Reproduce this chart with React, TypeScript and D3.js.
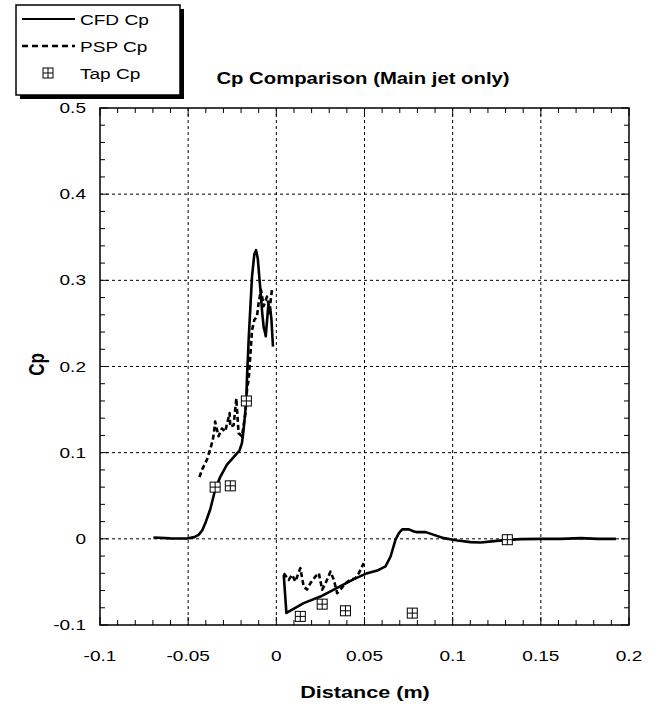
import React from "react";
import * as d3 from "d3";

// Cp data, [distance (m), Cp]
const cfdUpstream: [number, number][] = [
  [-0.0697, 0.0015], [-0.06, 0.0005], [-0.0507, 0.0003], [-0.0465, 0.002], [-0.0441, 0.0046],
  [-0.042, 0.01], [-0.0403, 0.018], [-0.0375, 0.034], [-0.0347, 0.057], [-0.0318, 0.072],
  [-0.028, 0.086], [-0.0242, 0.0948], [-0.0209, 0.1025], [-0.0195, 0.111], [-0.0186, 0.126],
  [-0.017, 0.161], [-0.0167, 0.184], [-0.0157, 0.231], [-0.0138, 0.304], [-0.0125, 0.33],
  [-0.0115, 0.335], [-0.0105, 0.325], [-0.0095, 0.3], [-0.0087, 0.281], [-0.008, 0.262],
  [-0.0072, 0.246], [-0.0065, 0.24], [-0.006, 0.235], [-0.0052, 0.255], [-0.0045, 0.272],
  [-0.004, 0.262], [-0.0035, 0.268], [-0.0028, 0.255], [-0.0019, 0.223]
];
const cfdDownstream: [number, number][] = [
  [0.0042, -0.0418], [0.0057, -0.086], [0.01, -0.081], [0.0155, -0.0746], [0.025, -0.067],
  [0.0345, -0.057], [0.044, -0.0468], [0.0506, -0.0406], [0.0572, -0.0368], [0.0619, -0.032],
  [0.0648, -0.0205], [0.0676, -0.001], [0.0695, 0.0066], [0.0714, 0.011], [0.0752, 0.011],
  [0.078, 0.0085], [0.0799, 0.0078], [0.0847, 0.0078], [0.0894, 0.0046], [0.095, 0.0008],
  [0.1027, -0.002], [0.1102, -0.0038], [0.1159, -0.0043], [0.1235, -0.0027], [0.1311, -0.0012],
  [0.1386, -0.0003], [0.15, 0], [0.1614, 0], [0.1727, 0.0008], [0.1822, 0], [0.1926, 0]
];
const pspUpstream: [number, number][] = [
  [-0.0436, 0.0716], [-0.0422, 0.08], [-0.0394, 0.0916], [-0.0375, 0.104], [-0.036, 0.115],
  [-0.0352, 0.126], [-0.0347, 0.136], [-0.0328, 0.119], [-0.0309, 0.128], [-0.029, 0.1245],
  [-0.0265, 0.146], [-0.0261, 0.13], [-0.0242, 0.132], [-0.0227, 0.163], [-0.0214, 0.1225],
  [-0.0195, 0.119], [-0.0175, 0.146], [-0.0165, 0.177], [-0.0157, 0.184], [-0.0138, 0.242],
  [-0.0125, 0.254], [-0.011, 0.258], [-0.0101, 0.273], [-0.0087, 0.289], [-0.0072, 0.27],
  [-0.0053, 0.281], [-0.0038, 0.266], [-0.0025, 0.289], [-0.0019, 0.291]
];
const pspDownstream: [number, number][] = [
  [0.0042, -0.04], [0.007, -0.0476], [0.0089, -0.0418], [0.0108, -0.0495], [0.0136, -0.034],
  [0.0155, -0.0553], [0.0174, -0.059], [0.0193, -0.0515], [0.0222, -0.0437], [0.0241, -0.0398],
  [0.026, -0.059], [0.0279, -0.0515], [0.0307, -0.038], [0.0326, -0.0476], [0.0345, -0.063],
  [0.0364, -0.059], [0.0392, -0.0515], [0.042, -0.0476], [0.0449, -0.0456], [0.0468, -0.0398],
  [0.0496, -0.0282]
];
const tapCp: [number, number][] = [
  [-0.0347, 0.06], [-0.0261, 0.0615], [-0.017, 0.16], [0.0136, -0.09],
  [0.026, -0.0758], [0.0392, -0.0835], [0.0771, -0.0862], [0.131, -0.001]
];

const xTicks = [-0.1, -0.05, 0, 0.05, 0.1, 0.15, 0.2];
const yTicks = [-0.1, 0, 0.1, 0.2, 0.3, 0.4, 0.5];
const legendItems = ["CFD Cp", "PSP Cp", "Tap Cp"];

const W = 659, H = 704;
const m = { left: 100, right: 629, top: 108, bottom: 625 };
const font = "'Liberation Sans', Arial, sans-serif";
// the original picture is stretched sideways, so text gets a horizontal scale too
const SX = 1.27;

function T(props: { x: number; y: number; size: number; anchor?: string; bold?: boolean; rot?: boolean; children: React.ReactNode }) {
  const { x, y, size, anchor = "start", bold, rot, children } = props;
  const tf = rot ? `translate(${x},${y}) scale(${SX},1) rotate(-90)` : `translate(${x},${y}) scale(${SX},1)`;
  return (
    <text transform={tf} textAnchor={anchor} fontSize={size} fontWeight={bold ? "bold" : "normal"}>{children}</text>
  );
}

function Tap({ x, y }: { x: number; y: number }) {
  const s = 5;
  return (
    <g transform={`translate(${x},${y})`}>
      <rect x={-s} y={-s} width={2 * s} height={2 * s} fill="#fff" stroke="#000" strokeWidth={1} />
      <line x1={-s} x2={s} y1={0} y2={0} stroke="#000" strokeWidth={1} />
      <line x1={0} x2={0} y1={-s} y2={s} stroke="#000" strokeWidth={1} />
    </g>
  );
}

export default function App() {
  const x = d3.scaleLinear().domain([-0.1, 0.2]).range([m.left, m.right]);
  const y = d3.scaleLinear().domain([-0.1, 0.5]).range([m.bottom, m.top]);
  const line = d3.line<[number, number]>().x(d => x(d[0])).y(d => y(d[1]));

  const xMinor = d3.range(-0.1, 0.2001, 0.01);
  const yMinor = d3.range(-0.1, 0.5001, 0.02);

  return (
    <svg width={W} height={H} style={{ position: "absolute", left: 0, top: 0, fontFamily: font }}>
      <rect width={W} height={H} fill="#fff" />
      {/* grid */}
      {xTicks.slice(1, -1).map(t => (
        <line key={"gx" + t} x1={x(t)} x2={x(t)} y1={m.top} y2={m.bottom} stroke="#000" strokeWidth={1} strokeDasharray="3,3" />
      ))}
      {yTicks.slice(1, -1).map(t => (
        <line key={"gy" + t} x1={m.left} x2={m.right} y1={y(t)} y2={y(t)} stroke="#000" strokeWidth={1} strokeDasharray="3,3" />
      ))}

      {/* ticks, pointing inward on all four sides */}
      {xMinor.map((t, i) => {
        const len = i % 5 === 0 ? 8 : 5;
        return (
          <g key={"tx" + i}>
            <line x1={x(t)} x2={x(t)} y1={m.bottom} y2={m.bottom - len} stroke="#000" />
            <line x1={x(t)} x2={x(t)} y1={m.top} y2={m.top + len} stroke="#000" />
          </g>
        );
      })}
      {yMinor.map((t, i) => {
        const len = i % 5 === 0 ? 8 : 5;
        return (
          <g key={"ty" + i}>
            <line x1={m.left} x2={m.left + len} y1={y(t)} y2={y(t)} stroke="#000" />
            <line x1={m.right} x2={m.right - len} y1={y(t)} y2={y(t)} stroke="#000" />
          </g>
        );
      })}
      <rect x={m.left} y={m.top} width={m.right - m.left} height={m.bottom - m.top} fill="none" stroke="#000" strokeWidth={1.5} />

      {/* tick labels */}
      {xTicks.map(t => (
        <T key={"lx" + t} x={x(t)} y={m.bottom + 36} anchor="middle" size={15}>{String(+t.toFixed(2))}</T>
      ))}
      {yTicks.map(t => (
        <T key={"ly" + t} x={m.left - 14} y={y(t) + 5} anchor="end" size={15}>{String(+t.toFixed(1))}</T>
      ))}

      {/* series */}
      <g fill="none" stroke="#000" strokeWidth={2.6} strokeLinejoin="round">
        <path d={line(cfdUpstream) || ""} />
        <path d={line(cfdDownstream) || ""} />
        <path d={line(pspUpstream) || ""} strokeDasharray="5,3" />
        <path d={line(pspDownstream) || ""} strokeDasharray="5,3" />
      </g>
      {tapCp.map((d, i) => <Tap key={"tap" + i} x={x(d[0])} y={y(d[1])} />)}

      {/* titles */}
      <T x={363} y={84} anchor="middle" size={16} bold>Cp Comparison (Main jet only)</T>
      <T x={365} y={698} anchor="middle" size={17} bold>Distance (m)</T>
      <T x={44} y={(m.top + m.bottom) / 2 - 2} anchor="middle" size={17} bold rot>Cp</T>

      {/* legend */}
      <g>
        <rect x={20} y={9} width={164} height={90} fill="#000" />
        <rect x={16} y={5} width={164} height={90} fill="#fff" stroke="#000" strokeWidth={1.5} />
        {legendItems.map((name, i) => {
          const ly = 19 + i * 27;
          return (
            <g key={name}>
              {i === 0 && <line x1={22} x2={75} y1={ly} y2={ly} stroke="#000" strokeWidth={2} />}
              {i === 1 && <line x1={22} x2={75} y1={ly} y2={ly} stroke="#000" strokeWidth={2.6} strokeDasharray="6,4" />}
              {i === 2 && <Tap x={48} y={ly} />}
              <T x={80} y={ly + 6} size={15}>{name}</T>
            </g>
          );
        })}
      </g>
    </svg>
  );
}
